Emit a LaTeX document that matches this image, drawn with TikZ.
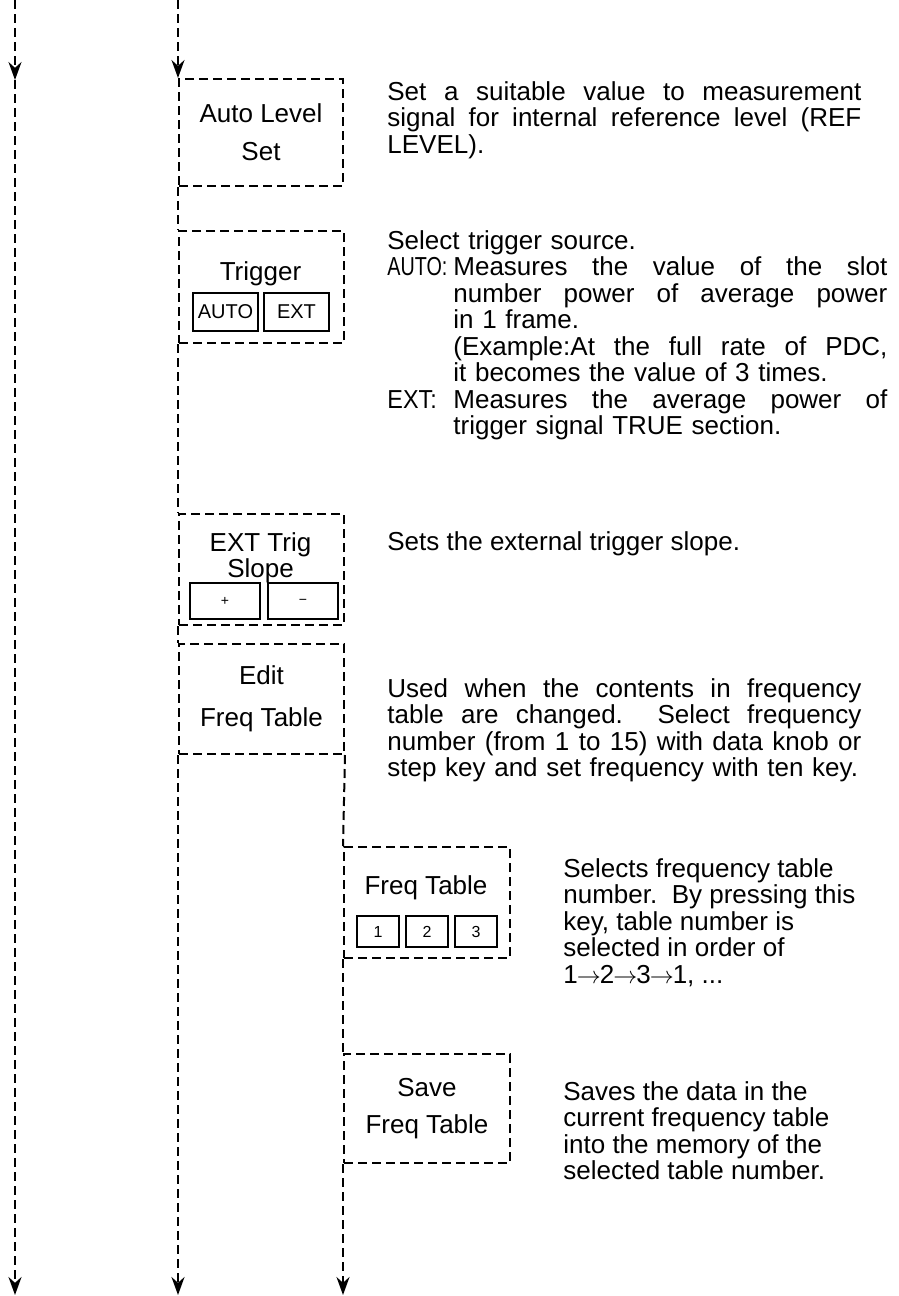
\documentclass[tikz,border=0pt]{standalone}
\usepackage{fontspec}
\usepackage{graphicx}
\setmainfont{Liberation Sans}
\usetikzlibrary{arrows.meta,positioning}

% widths of the description columns and of the AUTO:/EXT: column
\newlength\descw
\setlength\descw{237pt}
\newlength\trgw
\setlength\trgw{250pt}
\newlength\hangw
\setlength\hangw{33pt}
\newcommand{\spreadto}[2]{\makebox[#1][s]{\spaceskip=0.28em plus 1fil\relax #2}}
\newcommand{\fillline}[1]{\spreadto{\descw}{#1}}
\newcommand{\keyline}[3]{\makebox[\hangw][l]{\scalebox{#1}[1]{#2}}\spreadto{\dimexpr\trgw-\hangw\relax}{#3}}
\newcommand{\hangline}[1]{\hspace*{\hangw}\spreadto{\dimexpr\trgw-\hangw\relax}{#1}}
\newcommand{\hangrest}[1]{\hspace*{\hangw}#1}
\newcommand{\nextkey}{\kern-0.5pt\ensuremath{\rightarrow}\kern-0.5pt}

\begin{document}
\begin{tikzpicture}[
    x=0.5pt, y=-0.5pt,
    font=\fontsize{13}{13.25}\selectfont,
    flow/.style     = {line width=1pt, dash pattern=on 4.5pt off 2.5pt},
    down/.style     = {flow, -{Stealth[length=9pt, width=6.5pt]}},
    keybox/.style   = {flow, draw, rectangle, inner sep=0pt, anchor=north west, align=center},
    softkey/.style  = {draw, line width=1pt, rectangle, inner sep=0pt, anchor=north west,
                       font=\fontsize{10}{12}\selectfont},
    numkey/.style   = {softkey, minimum width=21pt, minimum height=15.5pt,
                       font=\fontsize{8}{9}\selectfont},
    slopekey/.style = {softkey, minimum width=35pt, minimum height=18pt,
                       font=\fontsize{7}{8}\selectfont},
    keylabel/.style = {inner sep=0pt, align=center},
    desc/.style     = {inner sep=0pt, anchor=north west, align=left}
  ]
\useasboundingbox (0,0) rectangle (899,1296);

% =========================================================
% Key boxes
% =========================================================
\node[keybox, minimum width=82pt, minimum height=53.5pt] (auto) at (178,78)
  {Auto Level\\[5.75pt]Set};

\node[keybox, minimum width=82.5pt, minimum height=56pt] (trg) at (178,230) {};
\node[keylabel] (trglbl) at (260.5,274) {Trigger};
\node[softkey, minimum width=32.5pt, minimum height=19pt] (bauto) at (192,292) {AUTO};
\node[softkey, minimum width=32.5pt, minimum height=19pt] (bext) at (263,292) {EXT};

\node[keybox, minimum width=82.5pt, minimum height=55.5pt] (slp) at (178,513) {};
\node[keylabel] (slplbl) at (260.5,558) {EXT Trig\\Slope};
\node[slopekey] (bplus) at (189,582) {\raisebox{-3pt}{+}};
\node[slopekey] (bminus) at (267,582) {\raisebox{-3pt}{−}};

\node[keybox, minimum width=82.5pt, minimum height=55pt] (edit) at (178,643)
  {Edit\\[7.75pt]Freq Table};

\node[keybox, minimum width=83pt, minimum height=55.5pt] (ftab) at (343,846) {};
\node[keylabel] (ftablbl) at (426,888) {Freq Table};
\foreach \n/\xx in {1/356, 2/405, 3/454}
  \node[numkey] (b\n) at (\xx,915) {\n};

\node[keybox, minimum width=83pt, minimum height=54.5pt] (save) at (343,1053)
  {Save\\[5.5pt]Freq Table};

% =========================================================
% Flow lines
% =========================================================
% left column
\coordinate (l1top) at (15,0);
\coordinate (l1mid) at (15,80);
\coordinate (l1end) at (15,1295);
\draw[down] (l1top) -- (l1mid);
\draw[down] (l1mid) -- (l1end);

% key column
\coordinate (l2top) at (178,0);
\coordinate (l2end) at (178,1295);
\draw[down] (l2top) -- (auto.north west);
\draw[flow] (auto.south west) -- (trg.north west);
\draw[flow] (trg.south west) -- (slp.north west);
\draw[flow] (slp.south west) -- (edit.north west);
\draw[down] (edit.south west) -- (l2end);

% sub-menu column
\coordinate (l3end) at (343,1295);
\draw[flow] (edit.south east) -- (ftab.north west);
\draw[flow] (ftab.south west) -- (save.north west);
\draw[down] (save.south west) -- (l3end);

% =========================================================
% Descriptions
% =========================================================
\node[desc, text width=\descw] (dauto) at (387,81)
  {\fillline{Set a suitable value to measurement}\\
   \fillline{signal for internal reference level (REF}\\
   LEVEL).};

\node[desc, text width=\trgw] (dtrg) at (387,230)
  {Select trigger source.\\
   \keyline{0.76}{AUTO:}{Measures the value of the slot}\\
   \hangline{number power of average power}\\
   \hangrest{in 1 frame.}\\
   \hangline{(Example:At the full rate of PDC,}\\
   \hangrest{it becomes the value of 3 times.}\\
   \keyline{0.9}{EXT:}{Measures the average power of}\\
   \hangrest{trigger signal TRUE section.}};

\node[desc] (dslp) at (387,531) {Sets the external trigger slope.};

\node[desc, text width=\descw] (dedit) at (387,678)
  {\fillline{Used when the contents in frequency}\\
   \fillline{table are changed.\ \ Select frequency}\\
   \fillline{number (from 1 to 15) with data knob or}\\
   step key and set frequency with ten key.};

\node[desc] (dftab) at (563,858)
  {Selects frequency table\\
   number.\ \ By pressing this\\
   key, table number is\\
   selected in order of\\
   1\nextkey2\nextkey3\nextkey1, ...};

\node[desc] (dsave) at (563,1081)
  {Saves the data in the\\
   current frequency table\\
   into the memory of the\\
   selected table number.};

\end{tikzpicture}
\end{document}
